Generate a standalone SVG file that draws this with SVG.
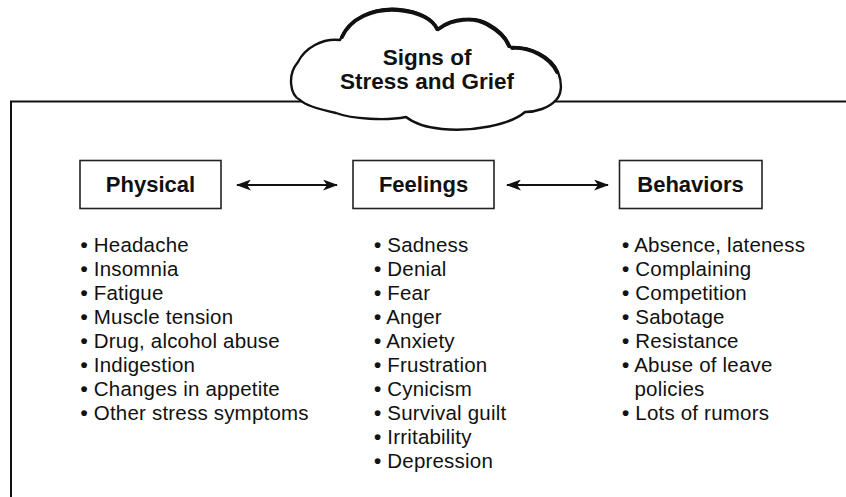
<svg xmlns="http://www.w3.org/2000/svg" width="846" height="497" viewBox="0 0 846 497">
  <style>
    .frame { fill: none; stroke: #111; stroke-width: 2; }
    .box { fill: #fff; stroke: #222; stroke-width: 1.6; }
    .label { font-family: "Liberation Sans", Arial, sans-serif; font-weight: bold; font-size: 22px; fill: #111; text-anchor: middle; }
    .title { font-family: "Liberation Sans", Arial, sans-serif; font-weight: bold; font-size: 22.5px; fill: #111; text-anchor: middle; }
    .item { font-family: "Liberation Sans", Arial, sans-serif; font-size: 20.5px; letter-spacing: 0.2px; fill: #111; }
    .b { font-weight: bold; }
    .conn { stroke: #111; stroke-width: 1.8; fill: none; marker-start: url(#ah); marker-end: url(#ah); }
    .cloud { fill: #fff; stroke: #111; stroke-width: 2.4; stroke-linejoin: round; }
    .cloudtop { fill: none; stroke: #111; stroke-width: 3.8; stroke-linecap: round; }
  </style>
  <defs>
    <marker id="ah" viewBox="0 0 15 11" markerUnits="userSpaceOnUse" markerWidth="15" markerHeight="11" refX="14" refY="5.5" orient="auto-start-reverse">
      <path d="M0,0 L15,5.5 L0,11 L4,5.5 Z" fill="#111"/>
    </marker>
  </defs>
  <rect width="846" height="497" fill="#fff"/>

  <g id="frame">
    <path class="frame" d="M11,497 L11,101.5 L846,101.5"/>
  </g>

  <g id="title">
    <path class="cloud" d="M300,100 C290,95 287,75 298,62 C305,48 322,38 340,40 C347,20 372,7 398,9 C420,11 434,19 438,30 C450,19 474,15 489,24 C500,30 507,38 510,47 C530,46 551,56 558,72 C563,85 561,95 556,100 C549,108 536,112 525,112 C510,125 472,132 442,129 C422,127 411,121 406,117 C386,121 352,119 336,113 C322,110 306,106 300,100 Z"/>
    <path class="cloudtop" d="M342,37 C350,19 372,8 398,10 C420,12 433,20 437,29 M440,28 C452,19 474,16 488,25 C499,31 506,38 509,46 M512,48 C530,47 550,57 557,72"/>
    <text class="title" x="427" y="65">Signs of</text>
    <text class="title" x="427" y="89">Stress and Grief</text>
  </g>

  <g id="connectors">
    <line class="conn" x1="237" y1="185" x2="337" y2="185"/>
    <line class="conn" x1="507" y1="185" x2="608" y2="185"/>
  </g>

  <g id="physical">
    <rect class="box" x="80" y="160.5" width="141" height="48"/>
    <text class="label" x="150.5" y="192">Physical</text>
    <text class="item" x="80.5" y="252"><tspan class="b">•</tspan> Headache</text>
    <text class="item" x="80.5" y="276"><tspan class="b">•</tspan> Insomnia</text>
    <text class="item" x="80.5" y="300"><tspan class="b">•</tspan> Fatigue</text>
    <text class="item" x="80.5" y="324"><tspan class="b">•</tspan> Muscle tension</text>
    <text class="item" x="80.5" y="348"><tspan class="b">•</tspan> Drug, alcohol abuse</text>
    <text class="item" x="80.5" y="372"><tspan class="b">•</tspan> Indigestion</text>
    <text class="item" x="80.5" y="396"><tspan class="b">•</tspan> Changes in appetite</text>
    <text class="item" x="80.5" y="420"><tspan class="b">•</tspan> Other stress symptoms</text>
  </g>

  <g id="feelings">
    <rect class="box" x="353" y="160.5" width="141" height="48"/>
    <text class="label" x="423.5" y="192">Feelings</text>
    <text class="item" x="374" y="252"><tspan class="b">•</tspan> Sadness</text>
    <text class="item" x="374" y="276"><tspan class="b">•</tspan> Denial</text>
    <text class="item" x="374" y="300"><tspan class="b">•</tspan> Fear</text>
    <text class="item" x="374" y="324"><tspan class="b">•</tspan> Anger</text>
    <text class="item" x="374" y="348"><tspan class="b">•</tspan> Anxiety</text>
    <text class="item" x="374" y="372"><tspan class="b">•</tspan> Frustration</text>
    <text class="item" x="374" y="396"><tspan class="b">•</tspan> Cynicism</text>
    <text class="item" x="374" y="420"><tspan class="b">•</tspan> Survival guilt</text>
    <text class="item" x="374" y="444"><tspan class="b">•</tspan> Irritability</text>
    <text class="item" x="374" y="468"><tspan class="b">•</tspan> Depression</text>
  </g>

  <g id="behaviors">
    <rect class="box" x="619.5" y="160.5" width="142.5" height="48"/>
    <text class="label" x="690.5" y="192">Behaviors</text>
    <text class="item" x="622" y="252"><tspan class="b">•</tspan> Absence, lateness</text>
    <text class="item" x="622" y="276"><tspan class="b">•</tspan> Complaining</text>
    <text class="item" x="622" y="300"><tspan class="b">•</tspan> Competition</text>
    <text class="item" x="622" y="324"><tspan class="b">•</tspan> Sabotage</text>
    <text class="item" x="622" y="348"><tspan class="b">•</tspan> Resistance</text>
    <text class="item" x="622" y="372"><tspan class="b">•</tspan> Abuse of leave</text>
    <text class="item" x="634.5" y="396">policies</text>
    <text class="item" x="622" y="420"><tspan class="b">•</tspan> Lots of rumors</text>
  </g>
</svg>
